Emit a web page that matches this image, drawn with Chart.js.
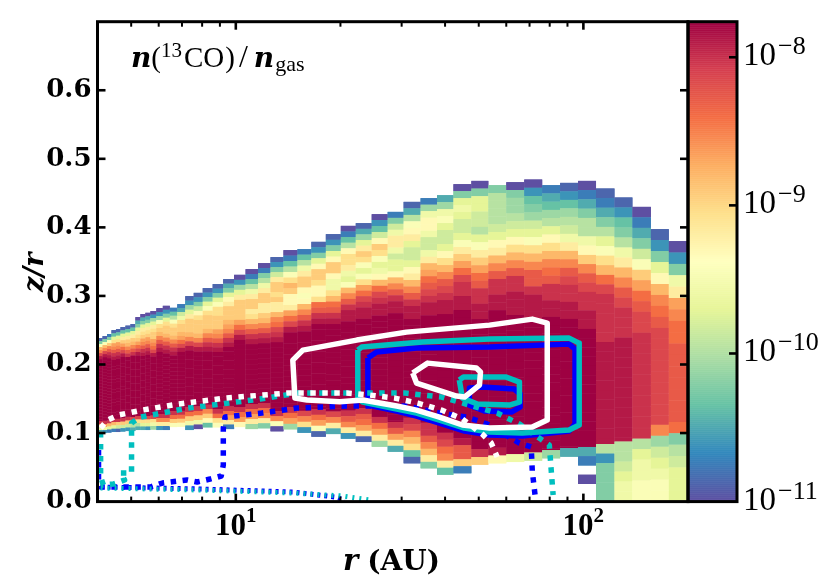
<!DOCTYPE html>
<html>
<head>
<meta charset="utf-8">
<style>
    html, body { margin: 0; padding: 0; background: #fff; }
    canvas { display: block; }
</style>
<script src="https://cdn.jsdelivr.net/npm/chart.js@4/dist/chart.umd.js"></script>
</head>
<body>
<canvas id="chart" width="830" height="585"></canvas>
<script>
// log10(r) of the column edges
const logREdges = [
    0.6036, 0.6165, 0.6294, 0.6423, 0.6552, 0.6681, 0.6824, 0.6968, 0.7111, 0.7255,
    0.7398, 0.7542, 0.7714, 0.79, 0.8101, 0.8316, 0.8546, 0.8789, 0.9048, 0.9334,
    0.9636, 0.9951, 1.0281, 1.064, 1.0998, 1.1371, 1.1773, 1.2174, 1.259, 1.3021,
    1.3451, 1.391, 1.4369, 1.4828, 1.5316, 1.5789, 1.6262, 1.6778, 1.7266, 1.7783,
    1.8299, 1.8815, 1.9332, 1.9848, 2.0364, 2.0895, 2.1411, 2.1942, 2.2458, 2.301,
];
// z/r of the top and bottom of each column, and its cell height
const columnTop = [
    .2385, .2414, .2443, .2501, .2516, .2545, .2567, .2589, .2691, .2735,
    .2754, .2778, .2822, .2856, .2827, .2880, .2997, .3045, .3114, .3172,
    .3245, .3308, .3391, .3478, .3566, .3668, .3682, .3789, .3901, .4022,
    .4061, .4192, .4226, .4372, .4426, .4469, .4630, .4678, .4615, .4659,
    .4698, .4615, .4649, .4678, .4567, .4436, .4299, .3974, .3799,
];
const columnBottom = [
    .1000, .1000, .1007, .1015, .1015, .1022, .1029, .1029, .1044, .1044,
    .1044, .1051, .1044, .1044, .1087, .1092, .1044, .1058, .1083, .1083,
    .1058, .1087, .1058, .1069, .1025, .1054, .1004, .0946, .0985, .0917,
    .0869, .0800, .0727, .0558, .0485, .0392, .0413, .0538, .0558, .0577,
    .0596, .0631, .0655, .0257, 0, 0, 0, 0, 0,
];
const cellHeight = [
    .0044, .0044, .0044, .0048, .0048, .0048, .0051, .0051, .0051, .0051,
    .0051, .0051, .0058, .0058, .0058, .0058, .0066, .0066, .0066, .0066,
    .0066, .0073, .0073, .0073, .0073, .008, .008, .008, .0082, .0082,
    .0082, .0087, .0087, .0095, .0095, .0102, .0102, .0112, .0114, .0114,
    .012, .012, .0124, .0135, .014, .0146, .0153, .016, .0166,
];
// abundance level of each cell, a = 1e-11 ... z = colour bar top. '.' is an empty cell
const upperCells = [
    'bgmrtwy', 'bgmrtwy', 'cgmqtvxy', 'bfkpstvxy', 'bfkpstvxy', 'bfkoqsuwy', 'bfkoqrtvx',
    'bfkoqrtvx', 'aegkopqsuwy', 'aegkopqstvxy', 'aegkopqstvxy', 'adhkopqqstuwy', 'adhmpqrtvxy',
    'adgkpqqrtvxy', 'cfimpqqrtvxy', 'cejlpqqrsuwy', 'bdhkoqqqrtwy', 'bdgjnpqqqrtwy',
    'bdgkmpqqqrtvxy', 'bdgkmppqqqstvxy', 'begknoqqqrstvxy', 'adhkoqqqqsuwy', 'acfiloqqoprtvxy',
    'acgiloqqooqrtvxy', 'bdgjoqqpqoortuwxy', 'acfimprqnnosuwy', 'cfiloqqnmnrtvxy', 'bdgknqqpnnpuvxy',
    'bdgknqqnllpruvxy', 'acfinppolkmrtvxyy', 'behkoqpmkmpsuwxyy', 'adfjnqpmklnruwxyy',
    'cgjlooljkknrtvxyy', 'beimnokjjknortvxyy', 'chlnnljjlorsuvwxyy', 'ehlmkjjknprtvwxyy',
    'agklkjjkmoqsuwxxyy', 'agkkjjikmoqsuvxxyy', 'giiiijknortvxxyyz', 'aghhijknprtvxxyyy',
    'adfghjkmprtvvxyyy', 'cefhiknprtuvxxyy', 'bdfhijlortvwxxyy', 'acegiilnqtvwxxyy',
    'bcegikmpruwxxxxx', 'bdfgilortvwxxx', 'acegjmqsuvwwx', 'bdgknrtuvww', 'adglostuu',
];
const coreCells = 'zzzzzzzzzzzzzzzzzzzzzzzzzzzzzzzzzzzzzzzzzzzzyyxwv';
const lowerCells = [
    'xsle', 'xsld', 'xrkc', 'xrkc', 'xqjb', 'xqjd', 'xqjd', 'wpie', 'wpie', 'wpke',
    'wpkd', 'wplh', 'xtod', 'xtoc', 'xuqm', 'xuqm', 'xuqld', 'xuqla', 'xtqnf', 'xupm',
    'xusoc', 'xusn', 'xusoh', 'xutog', 'xtma', 'xush', 'wtpd', 'xusmb', 'wtoe', 'xvtod',
    'xvusob', 'xusoh', 'xvsoe', 'xwtrpfb', 'xxvtrog', 'xwutof', 'yvvqc', 'xq', 'yn', 'l',
    'j', 'h', 'e', 'ec.a', 'idgggg', 'iijkll', 'xikllmm', 'thjklmm', 'ugijkkk',
];

// contours: log10(r) and z/r
const whiteOuterLogR = [1.896, 1.896, 1.853, 1.730, 1.652, 1.586, 1.520, 1.463, 1.365, 1.299, 1.205, 1.170, 1.164, 1.193, 1.348, 1.491, 1.730, 1.853, 1.896];
const whiteOuterZ = [.2603, .1190, .1087, .1073, .1117, .1233, .1335, .1394, .1481, .1456, .1481, .1510, .2064, .2210, .2356, .2472, .2574, .2662, .2603];
const whiteInnerLogR = [1.509, 1.552, 1.692, 1.704, 1.701, 1.658, 1.635, 1.520, 1.509];
const whiteInnerZ = [.1875, .2020, .1948, .1889, .17, .1525, .1539, .1729, .1875];
const tealOuterLogR = [1.351, 1.362, 1.537, 1.730, 1.959, 1.988, 1.988, 1.959, 1.824, 1.730, 1.658, 1.586, 1.520, 1.463, 1.365, 1.351, 1.351];
const tealOuterZ = [.2210, .2254, .2327, .2370, .2385, .2312, .1117, .1044, .1, .1015, .1073, .119, .1292, .135, .1452, .151, .2210];
const tealInnerLogR = [1.643, 1.655, 1.778, 1.816, 1.816, 1.787, 1.695, 1.652, 1.643];
const tealInnerZ = [.1773, .1816, .1816, .1743, .1452, .1408, .1423, .151, .1773];
const blueOuterLogR = [1.380, 1.405, 1.520, 1.730, 1.959, 1.976, 1.976, 1.959, 1.824, 1.730, 1.658, 1.586, 1.520, 1.463, 1.380, 1.380];
const blueOuterZ = [.2093, .2181, .2239, .2254, .2297, .2224, .1131, .1029, .0956, .0971, .1029, .1146, .1248, .1321, .1408, .2093];
const blueInnerLogR = [1.709, 1.801, 1.818, 1.818, 1.793, 1.715, 1.672, 1.672, 1.709];
const blueInnerZ = [.1671, .1641, .1569, .1379, .1306, .1321, .1408, .1656, .1671];

const whiteDotLogR = [.611, .631, .662, .731, .834, .972, 1.147, 1.319, 1.385, 1.457, 1.523, 1.592, 1.652, 1.709, 1.735, 1.752];
const whiteDotZ = [.1073, .119, .1262, .1335, .1423, .151, .1583, .1583, .1554, .151, .1437, .1335, .1204, .0985, .0854, .065];
const tealDotLogR = [.611, .611, .619, .648, .680, .668, .700, .700, .7255, .863, 1.070, 1.179, 1.486, 1.592, 1.752, 1.816, 1.873, 1.902, 1.907, 1.913];
const tealDotZ = [.1015, .0359, .0242, .0257, .0315, .0417, .0417, .1146, .1233, .1364, .1496, .1583, .1583, .1525, .1292, .1131, .0927, .0825, .049, .0096];
const blueDotLogR = [.605, .605, .611, .754, .789, .860, .889, .926, .958, .964, .964, .969, 1.075, 1.176, 1.319, 1.491, 1.586, 1.664, 1.724, 1.816, 1.850, 1.853, 1.861];
const blueDotZ = [.0752, .0315, .0213, .0213, .0271, .0315, .0286, .0329, .0373, .0534, .1073, .1233, .1292, .1364, .1394, .1394, .1292, .1233, .1131, .0854, .0796, .0446, .0096];
const tealMidLogR = [.611, .898, 1.164, 1.308, 1.385];
const tealMidZ = [.0198, .0169, .0125, .0082, .0023];
const blueMidLogR = [.611, .898, 1.164, 1.285, 1.314];
const blueMidZ = [.0213, .0184, .014, .0067, .0023];

// axes
const rMin = 4;
const rMax = 200;
const zMax = 0.7;
const logAbundMin = -11;
const logAbundMax = -7.76;
const rMajorTicks = [10, 100];
const rMajorLabels = ['1', '2'];
const rMinorTicks = [5, 6, 7, 8, 9, 20, 30, 40, 50, 60, 70, 80, 90];
const zTicks = [0.1, 0.2, 0.3, 0.4, 0.5, 0.6];
const barTicks = [-8, -9, -10];
const barLabels = ['\u22128', '\u22129', '\u221210', '\u221211'];

const spectral = [
    [94, 79, 162], [50, 136, 189], [102, 194, 165], [171, 221, 164], [230, 245, 152], [255, 255, 191],
    [254, 224, 139], [253, 174, 97], [244, 109, 67], [213, 62, 79], [158, 1, 66],
];

function colormap(t) {
    const p = Math.min(Math.max(t, 0), 1) * (spectral.length - 1);
    const i = Math.min(Math.floor(p), spectral.length - 2);
    const f = p - i;
    const c = spectral[i].map((v, k) => Math.round(v + (spectral[i + 1][k] - v) * f));
    return `rgb(${c[0]},${c[1]},${c[2]})`;
}

function levelToLog(ch) {
    return logAbundMin + (ch.charCodeAt(0) - 97) * (logAbundMax - logAbundMin) / 25;
}

function buildCells() {
    const cells = [];
    const add = (col, y0, y1, ch) => {
        if (ch === '.') return;
        const x0 = 10 ** logREdges[col];
        const x1 = 10 ** logREdges[col + 1];
        cells.push({ x: (x0 + x1) / 2, y: (y0 + y1) / 2, x0, x1, y0, y1, v: levelToLog(ch) });
    };
    logREdges.slice(1).forEach((edge, col) => {
        const h = cellHeight[col];
        const lower = lowerCells[col];
        const lowerTop = columnBottom[col] + lower.length * h;
        let y = columnTop[col];
        for (const ch of upperCells[col]) {
            add(col, y - h, y, ch);
            y -= h;
        }
        while (y > lowerTop + 1e-6) {
            add(col, Math.max(y - h, lowerTop), y, coreCells[col]);
            y -= h;
        }
        y = lowerTop;
        for (const ch of lower) {
            add(col, y - h, y, ch);
            y -= h;
        }
    });
    return cells;
}

function curve(logR, z) {
    return logR.map((v, i) => ({ x: 10 ** v, y: z[i] }));
}

function lineSet(label, logR, z, color, width, dash) {
    return {
        label: label,
        data: curve(logR, z),
        showLine: true,
        borderColor: color,
        borderWidth: width,
        borderDash: dash || [],
        borderJoinStyle: 'round',
        pointRadius: 0,
        tension: 0,
    };
}

// pieces of text on one baseline: [text, font, raise, gap]
function drawParts(ctx, parts, x, y) {
    ctx.textAlign = 'left';
    ctx.textBaseline = 'alphabetic';
    ctx.fillStyle = '#000';
    parts.forEach(([text, font, raise, gap]) => {
        ctx.font = font;
        ctx.fillText(text, x, y - (raise || 0));
        x += ctx.measureText(text).width + (gap || 0);
    });
}

function partsWidth(ctx, parts) {
    return parts.reduce((sum, [text, font]) => {
        ctx.font = font;
        return sum + ctx.measureText(text).width;
    }, 0);
}

const meshPlugin = {
    id: 'mesh',
    beforeDatasetsDraw(chart) {
        const { ctx, chartArea, scales } = chart;
        ctx.save();
        ctx.beginPath();
        ctx.rect(chartArea.left, chartArea.top, chartArea.right - chartArea.left, chartArea.bottom - chartArea.top);
        ctx.clip();
        // filled twice so the seams between cells stay faint
        for (let pass = 0; pass < 2; pass++) {
            chart.data.datasets[chart.data.datasets.length - 1].data.forEach(c => {
                const px0 = scales.x.getPixelForValue(c.x0);
                const px1 = scales.x.getPixelForValue(c.x1);
                const py0 = scales.y.getPixelForValue(c.y0);
                const py1 = scales.y.getPixelForValue(c.y1);
                ctx.fillStyle = colormap((c.v - logAbundMin) / (logAbundMax - logAbundMin));
                ctx.fillRect(px0, py1, px1 - px0, py0 - py1);
            });
        }
        ctx.restore();

        // colour bar
        const barLeft = chartArea.right;
        const barWidth = 49;
        const steps = 240;
        for (let i = 0; i < steps; i++) {
            const a = logAbundMin + (logAbundMax - logAbundMin) * i / steps;
            const b = logAbundMin + (logAbundMax - logAbundMin) * (i + 1) / steps;
            const y0 = scales.cb.getPixelForValue(10 ** a);
            const y1 = scales.cb.getPixelForValue(10 ** b);
            ctx.fillStyle = colormap((i + 0.5) / steps);
            ctx.fillRect(barLeft, y1 - 0.5, barWidth, y0 - y1 + 0.5);
        }
    },
    afterDatasetsDraw(chart) {
        const { ctx, chartArea, scales } = chart;
        const { left, right, top, bottom } = chartArea;
        const barRight = right + 49;
        ctx.save();
        ctx.strokeStyle = '#000';

        const tick = (x0, y0, x1, y1, width) => {
            ctx.lineWidth = width;
            ctx.beginPath();
            ctx.moveTo(x0, y0);
            ctx.lineTo(x1, y1);
            ctx.stroke();
        };
        rMajorTicks.forEach(v => {
            const x = scales.x.getPixelForValue(v);
            tick(x, bottom, x, bottom - 8, 2.6);
            tick(x, top, x, top + 8, 2.6);
        });
        rMinorTicks.forEach(v => {
            const x = scales.x.getPixelForValue(v);
            tick(x, bottom, x, bottom - 5, 2);
            tick(x, top, x, top + 5, 2);
        });
        zTicks.forEach(v => {
            const y = scales.y.getPixelForValue(v);
            tick(left, y, left + 8, y, 2.6);
            tick(right, y, right - 8, y, 2.6);
        });
        barTicks.forEach(v => {
            const y = scales.cb.getPixelForValue(10 ** v);
            tick(barRight, y, barRight - 8, y, 2.6);
        });

        ctx.lineWidth = 3;
        ctx.strokeRect(left, top, right - left, bottom - top);
        ctx.strokeRect(right, top, barRight - right, bottom - top);

        // x tick labels
        const boldDigits = 'bold 31px "Liberation Serif"';
        const boldSup = 'bold 21px "Liberation Serif"';
        rMajorTicks.forEach((v, i) => {
            const parts = [['10', boldDigits, 0], [rMajorLabels[i], boldSup, 13]];
            const x = scales.x.getPixelForValue(v) - partsWidth(ctx, parts) / 2;
            drawParts(ctx, parts, x, 535);
        });

        // colour bar labels
        const digits = '33px "Liberation Serif"';
        const sup = '26px "Liberation Serif"';
        [...barTicks, -11].forEach((v, i) => {
            const y = scales.cb.getPixelForValue(10 ** v);
            const base = v === -11 ? 510 : y + 8;
            drawParts(ctx, [['10', digits, 0, 2], [barLabels[i], sup, 11]], barRight + 6, base);
        });

        // axis titles and panel label
        const italic = 'italic bold 29px "DejaVu Serif"';
        const upright = 'bold 28px "DejaVu Serif"';
        drawParts(ctx, [['r', italic, 0, 9], ['(AU)', upright, 0]], 343, 570);

        ctx.save();
        ctx.translate(43, 292);
        ctx.rotate(-Math.PI / 2);
        drawParts(ctx, [['z/r', 'italic bold 27px "DejaVu Serif"', 0]], 0, 0);
        ctx.restore();

        const nFont = 'italic bold 28px "DejaVu Serif"';
        const text = '29px "Liberation Serif"';
        drawParts(ctx, [
            ['n', nFont, 0, 0],
            ['(', text, 0, 0],
            ['13', '21px "Liberation Serif"', 10, 2],
            ['CO', text, 0, 1],
            [')', text, 0, 4],
            ['/', '32px "Liberation Serif"', 0, 6],
            ['n', nFont, 0, 1],
            ['gas', '22px "Liberation Serif"', -4, 0],
        ], 131, 67);
        ctx.restore();
    },
};

const datasets = [
    lineSet('white inner', whiteInnerLogR, whiteInnerZ, '#ffffff', 5.5),
    lineSet('white outer', whiteOuterLogR, whiteOuterZ, '#ffffff', 5.5),
    lineSet('white dotted', whiteDotLogR, whiteDotZ, '#ffffff', 5.5, [5.5, 6.5]),
    lineSet('teal inner', tealInnerLogR, tealInnerZ, '#00bfbf', 5.5),
    lineSet('teal outer', tealOuterLogR, tealOuterZ, '#00bfbf', 5.5),
    lineSet('teal dotted', tealDotLogR, tealDotZ, '#00bfbf', 5.5, [5.5, 6.5]),
    lineSet('teal midplane', tealMidLogR, tealMidZ, '#00bfbf', 5, [2, 5]),
    lineSet('blue inner', blueInnerLogR, blueInnerZ, '#0000ff', 5.5),
    lineSet('blue outer', blueOuterLogR, blueOuterZ, '#0000ff', 5.5),
    lineSet('blue dotted', blueDotLogR, blueDotZ, '#0000ff', 5.5, [5.5, 6.5]),
    lineSet('blue midplane', blueMidLogR, blueMidZ, '#0000ff', 5, [3, 4]),
    { label: 'abundance', data: buildCells(), pointRadius: 0, showLine: false },
];

new Chart(document.getElementById('chart').getContext('2d'), {
    type: 'scatter',
    data: { datasets: datasets },
    plugins: [meshPlugin],
    options: {
        responsive: false,
        animation: false,
        layout: { padding: { top: 21.7 } },
        plugins: { legend: { display: false }, tooltip: { enabled: false } },
        scales: {
            x: {
                type: 'logarithmic',
                position: 'bottom',
                min: rMin,
                max: rMax,
                grid: { display: false },
                border: { display: false },
                ticks: { display: false },
                afterFit: s => { s.height = 83.4; },
            },
            y: {
                type: 'linear',
                position: 'left',
                min: 0,
                max: zMax,
                grid: { display: false, drawTicks: false },
                border: { display: false },
                ticks: {
                    stepSize: 0.1,
                    color: '#000',
                    padding: 6,
                    font: { family: '"DejaVu Serif"', size: 26, weight: 'bold' },
                    callback: v => (v > 0.65 ? '' : v.toFixed(1)),
                },
                afterFit: s => { s.width = 97.5; },
            },
            cb: {
                type: 'logarithmic',
                axis: 'y',
                position: 'right',
                min: 10 ** logAbundMin,
                max: 10 ** logAbundMax,
                grid: { display: false },
                border: { display: false },
                ticks: { display: false },
                afterFit: s => { s.width = 142; },
            },
        },
    },
});
</script>
</body>
</html>
